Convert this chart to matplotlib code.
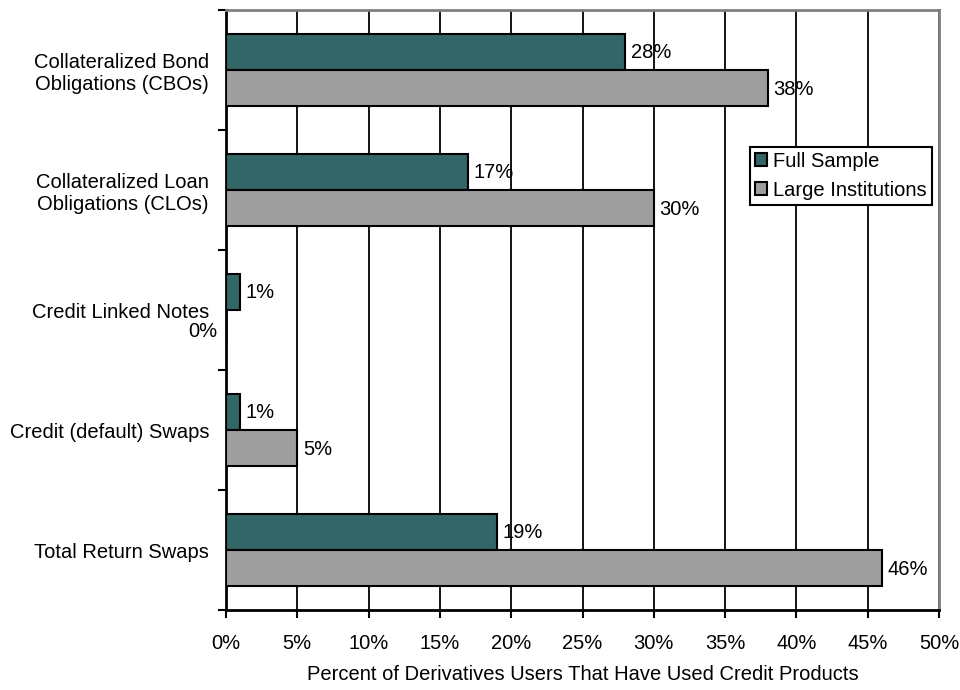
import numpy as np
import matplotlib
matplotlib.use("Agg")
import matplotlib.pyplot as plt
from matplotlib.ticker import FixedLocator, NullFormatter

plt.rcParams["font.family"] = ["Liberation Sans", "DejaVu Sans"]
plt.rcParams["font.size"] = 14.5

products = [
    "Collateralized Bond\nObligations (CBOs)",
    "Collateralized Loan\nObligations (CLOs)",
    "Credit Linked Notes",
    "Credit (default) Swaps",
    "Total Return Swaps",
]
full_sample = [28, 17, 1, 1, 19]
large_inst = [38, 30, 0, 5, 46]
x_ticks = [0, 5, 10, 15, 20, 25, 30, 35, 40, 45, 50]

teal = "#336666"
gray = "#9e9e9e"

fig = plt.figure(figsize=(9.6, 6.9), dpi=100)
ax = fig.add_axes([226 / 960, 1 - 610 / 690, 713 / 960, 600 / 690])

centers = np.arange(len(products)) + 0.5
h = 0.296

ax.barh(centers - h / 2, full_sample, height=h, color=teal, edgecolor="black",
        linewidth=1.5, label="Full Sample", zorder=3)
ax.barh(centers + h / 2, large_inst, height=h, color=gray, edgecolor="black",
        linewidth=1.5, label="Large Institutions", zorder=3)

# value labels at the end of each bar
for c, v in zip(centers, full_sample):
    ax.annotate(f"{v}%", (v, c - h / 2), xytext=(4, 0), textcoords="offset points",
                ha="left", va="center")
for c, v in zip(centers, large_inst):
    if v == 0:
        ax.annotate(f"{v}%", (v, c + h / 2), xytext=(-6, -3), textcoords="offset points",
                    ha="right", va="center")
    else:
        ax.annotate(f"{v}%", (v, c + h / 2), xytext=(4, -1), textcoords="offset points",
                    ha="left", va="center")

ax.set_xlim(0, 50)
ax.set_ylim(5, 0)
ax.set_xticks(x_ticks)
ax.set_xticklabels([f"{t}%" for t in x_ticks])
ax.tick_params(axis="x", direction="out", length=6, width=1.5, pad=11)

# category boundaries get tick marks, labels sit at the centers
ax.yaxis.set_major_locator(FixedLocator(np.arange(len(products) + 1)))
ax.yaxis.set_major_formatter(NullFormatter())
ax.yaxis.set_minor_locator(FixedLocator(centers))
ax.set_yticklabels(products, minor=True, multialignment="center")
ax.tick_params(axis="y", which="major", direction="out", length=6, width=1.5)
ax.tick_params(axis="y", which="minor", length=0, pad=12)

ax.grid(axis="x", color="black", linewidth=1.3, zorder=0)
ax.set_axisbelow(True)

ax.spines["left"].set_linewidth(2)
ax.spines["bottom"].set_linewidth(2)
ax.spines["top"].set_color("#808080")
ax.spines["right"].set_color("#808080")
ax.spines["top"].set_linewidth(2)
ax.spines["right"].set_linewidth(2)

ax.set_xlabel("Percent of Derivatives Users That Have Used Credit Products", labelpad=9)

leg = ax.legend(loc="upper right", bbox_to_anchor=(0.99, 0.772), borderaxespad=0,
                fancybox=False, framealpha=1, edgecolor="black",
                handlelength=0.6, handleheight=0.6, handletextpad=0.3,
                labelspacing=0.5, borderpad=0.25, fontsize=14.5)
leg.get_frame().set_linewidth(1.5)

fig.savefig("out.png", dpi=100)
